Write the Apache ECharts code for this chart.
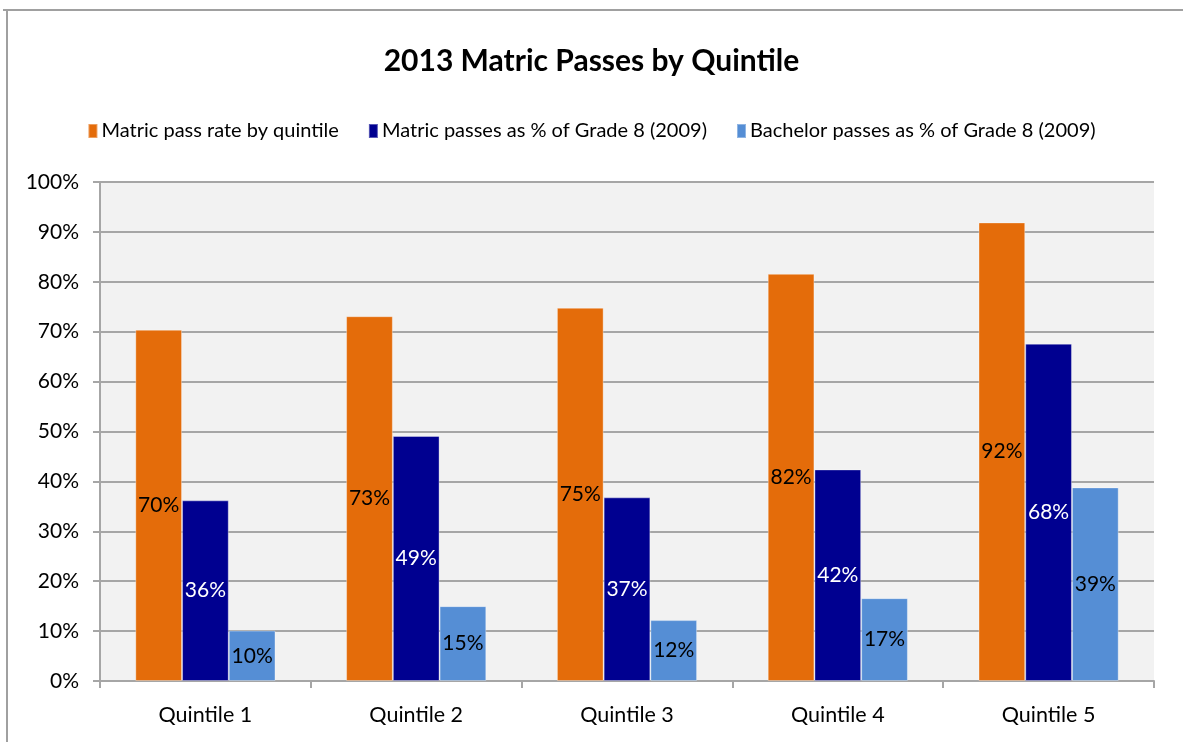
<!DOCTYPE html>
<html>
<head>
<meta charset="utf-8">
<title>2013 Matric Passes by Quintile</title>
<script src="https://cdn.jsdelivr.net/npm/echarts@6/dist/echarts.min.js"></script>
<style>
  html, body { margin: 0; padding: 0; background: #fff; }
  #main { width: 1183px; height: 742px; }
</style>
</head>
<body>
<div id="main"></div>
<script>
// categories and series (percent values)
var quintiles = ['Quintile 1', 'Quintile 2', 'Quintile 3', 'Quintile 4', 'Quintile 5'];
var seriesNames = [
  'Matric pass rate by quintile',
  'Matric passes as % of Grade 8 (2009)',
  'Bachelor passes as % of Grade 8 (2009)'
];
var passRate = [70.4, 73.1, 74.8, 81.6, 91.9];
var matricOfGrade8 = [36.2, 49.1, 36.8, 42.4, 67.6];
var bachelorOfGrade8 = [10.1, 15.0, 12.2, 16.6, 38.8];
var yTicks = [0, 10, 20, 30, 40, 50, 60, 70, 80, 90, 100];

var FONT = 'Lato, "Open Sans", sans-serif';
var gridGrey = '#a6a6a6';

var chart = echarts.init(document.getElementById('main'));

function barSeries(name, data, color, labelColor) {
  return {
    name: name,
    type: 'bar',
    data: data,
    barGap: '0%',
    barCategoryGap: '33.5%',
    itemStyle: { color: color, borderColor: 'rgba(255,255,255,0.35)', borderWidth: 1 },
    label: {
      show: true,
      position: 'inside',
      color: labelColor,
      fontFamily: FONT,
      fontSize: 21,
      formatter: function (p) { return Math.round(p.value) + '%'; }
    }
  };
}

var option = {
  animation: false,
  backgroundColor: '#fff',
  textStyle: { fontFamily: FONT },
  title: {
    text: '2013 Matric Passes by Quintile',
    left: 'center',
    top: 41,
    textStyle: { fontFamily: FONT, fontSize: 30, fontWeight: 'bold', color: '#000' }
  },
  legend: {
    data: seriesNames,
    left: 'center',
    top: 116,
    icon: 'rect',
    itemWidth: 9,
    itemHeight: 14,
    itemGap: 29,
    textStyle: { fontFamily: FONT, fontSize: 20, color: '#000', padding: [0, 0, 0, -1] }
  },
  grid: {
    left: 100,
    right: 29,
    top: 182,
    bottom: 61,
    show: true,
    backgroundColor: '#f2f2f2',
    borderWidth: 0
  },
  xAxis: {
    type: 'category',
    data: quintiles,
    axisLine: { lineStyle: { color: gridGrey, width: 2 } },
    axisTick: { show: true, length: 7, lineStyle: { color: gridGrey, width: 2 } },
    axisLabel: { color: '#000', fontFamily: FONT, fontSize: 21.5, margin: 23 }
  },
  yAxis: {
    type: 'value',
    min: yTicks[0],
    max: yTicks[yTicks.length - 1],
    interval: yTicks[1] - yTicks[0],
    axisLine: { show: true, lineStyle: { color: gridGrey, width: 2 } },
    axisTick: { show: true, length: 7, lineStyle: { color: gridGrey, width: 2 } },
    axisLabel: { color: '#000', fontFamily: FONT, fontSize: 21, margin: 21, formatter: '{value}%' },
    splitLine: { show: true, lineStyle: { color: gridGrey, width: 2 } }
  },
  graphic: [
    { type: 'line', shape: { x1: 3, y1: 10, x2: 1183, y2: 10 }, style: { stroke: '#a0a0a0', lineWidth: 2 }, silent: true },
    { type: 'line', shape: { x1: 7, y1: 9, x2: 7, y2: 742 }, style: { stroke: '#a0a0a0', lineWidth: 2 }, silent: true }
  ],
  series: [
    barSeries(seriesNames[0], passRate, '#e46c0a', '#000'),
    barSeries(seriesNames[1], matricOfGrade8, '#000090', '#fff'),
    barSeries(seriesNames[2], bachelorOfGrade8, '#558ed5', '#000')
  ]
};

chart.setOption(option);
</script>
</body>
</html>
